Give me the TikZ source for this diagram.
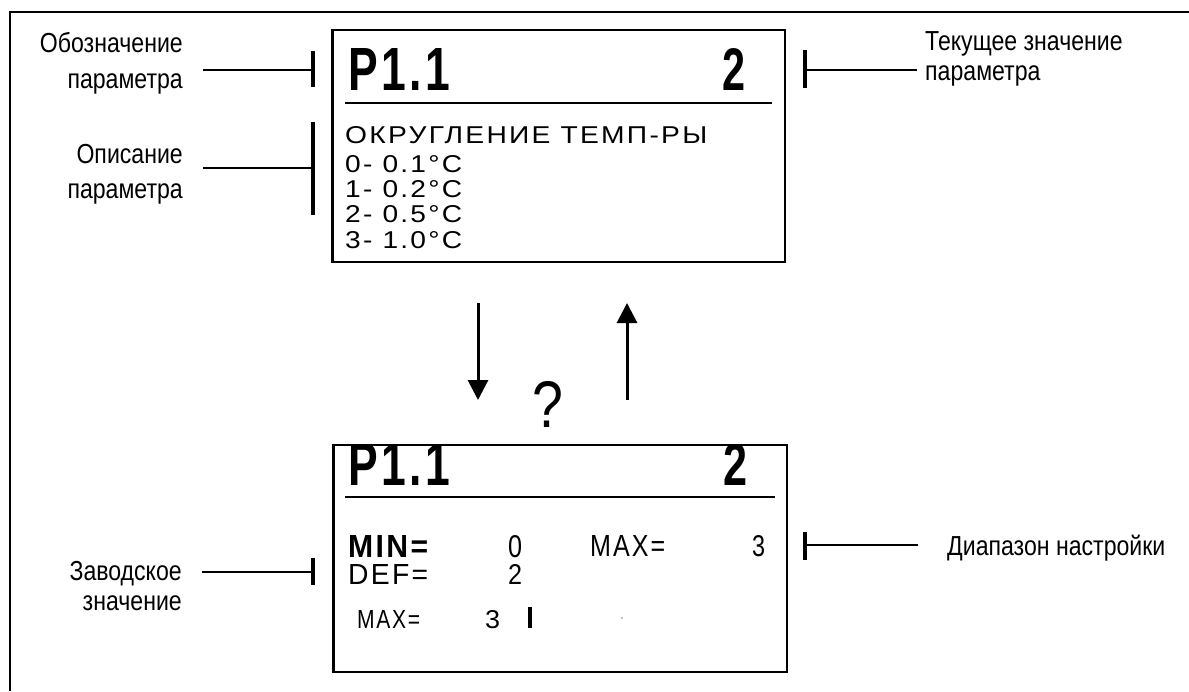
\documentclass[tikz,border=0pt]{standalone}
\usepackage{fontspec}
\usepackage{graphicx}
\usetikzlibrary{arrows.meta}
\setmainfont{Liberation Sans}
\newfontfamily\lblfont{Liberation Sans}[FakeStretch=0.84]
\newfontfamily\lcdfont{Liberation Sans}[LetterSpace=8]
\newcommand\lcdtxt[3]{\resizebox{#1pt}{#2pt}{\lcdfont #3}}
\newcommand\lcdbold[3]{\resizebox{#1pt}{#2pt}{\lcdfont\bfseries #3}}
\tikzset{
  lbl/.style={inner sep=0pt, font=\lblfont\fontsize{27.5}{33}\selectfont},
  lcd/.style={inner sep=0pt, anchor=base west},
  screen/.style={draw, line width=1.5pt, rectangle, inner sep=0pt},
  conn/.style={line width=2.6pt},
  tbar/.style={line width=4pt},
  rule/.style={line width=2.8pt},
  flow/.style={line width=3pt, -{Triangle[width=20pt,length=20pt]}},
  frame/.style={line width=1.3pt}
}
\begin{document}
\begin{tikzpicture}[x=1pt,y=-1pt]
\useasboundingbox (0,0) rectangle (1189,691);
% outer frame (open at right and bottom)
\draw[frame] (10,691) -- (10,12) -- (1189,12);

% screens
\node[screen, minimum width=453pt, minimum height=232pt] (top) at (558.5,146) {};
\node[screen, minimum width=454pt, minimum height=227pt] (bot) at (560,558.5) {};
\draw[line width=1.5pt] ([xshift=1.5pt]top.north west) -- ([xshift=1.5pt]top.south west);
\draw[line width=1.5pt] ([xshift=1.5pt]bot.north west) -- ([xshift=1.5pt]bot.south west);

% top screen content
\node[lcd] (tp) at (348,90) {\lcdbold{102}{42}{P1.1}};
\node[lcd] (tv) at (722,90) {\lcdbold{23}{42}{2}};
\draw[rule] (345,103) -- (772,103);
\node[lcd] (t0) at (345,143) {\lcdtxt{362}{17}{ОКРУГЛЕНИЕ ТЕМП-РЫ}};
\node[lcd] (t1) at (345,172) {\lcdtxt{117}{17}{0- 0.1°C}};
\node[lcd] (t2) at (345,197) {\lcdtxt{117}{17}{1- 0.2°C}};
\node[lcd] (t3) at (345,222) {\lcdtxt{117}{17}{2- 0.5°C}};
\node[lcd] (t4) at (345,248) {\lcdtxt{117}{17}{3- 1.0°C}};

% bottom screen content
\begin{scope}
\clip (bot.north west) rectangle (bot.south east);
\node[lcd] (bp) at (348,485) {\lcdbold{102}{42}{P1.1}};
\node[lcd] (bv) at (723,485) {\lcdbold{24}{42}{2}};
\end{scope}
\draw[rule] (345,497) -- (775,497);
\node[lcd] (bmin) at (348,557) {\lcdbold{80}{22}{MIN=}};
\node[lcd] (bminv) at (508,557) {\lcdtxt{14}{22}{0}};
\node[lcd] (bmax) at (590,556) {\lcdtxt{75}{21}{MAX=}};
\node[lcd] (bmaxv) at (752,556) {\lcdtxt{13}{21}{3}};
\node[lcd] (bdef) at (348,584) {\lcdtxt{80}{20}{DEF=}};
\node[lcd] (bdefv) at (508,584) {\lcdtxt{14}{20}{2}};
\node[lcd] (bm2) at (357,628) {\lcdtxt{63}{18}{MAX=}};
\node[lcd] (bm2v) at (485,628) {\lcdtxt{15}{18}{3}};
\fill (528,607) rectangle (532,628);
\fill[gray] (622,618) circle (0.8pt);

% arrows and question mark
\coordinate (d1) at (478,303);
\coordinate (d2) at (478,400);
\coordinate (u1) at (627,400);
\coordinate (u2) at (627,303);
\draw[flow] (d1) -- (d2);
\draw[flow] (u1) -- (u2);
\node[inner sep=0pt, anchor=base, font=\lblfont\fontsize{66}{70}\selectfont] (q) at (548,427) {?};

% left labels
\node[lbl, anchor=base east] (l1a) at (183,52) {Обозначение};
\node[lbl, anchor=base east] (l1b) at (183,88) {параметра};
\node[lbl, anchor=base east] (l2a) at (183,163) {Описание};
\node[lbl, anchor=base east] (l2b) at (183,198) {параметра};
\node[lbl, anchor=base east] (l3a) at (182,580) {Заводское};
\node[lbl, anchor=base east] (l3b) at (182,610) {значение};
% right labels
\node[lbl, anchor=base west] (r1a) at (925,50) {Текущее значение};
\node[lbl, anchor=base west] (r1b) at (925,80) {параметра};
\node[lbl, anchor=base west] (r2) at (947,555) {Диапазон настройки};

% label connectors with bars
\coordinate (c1s) at (203,70);  \coordinate (c1e) at (313,70);
\draw[conn] (c1s) -- (c1e);
\draw[tbar] (313,51) -- (313,87);
\coordinate (c2s) at (203,168); \coordinate (c2e) at (313,168);
\draw[conn] (c2s) -- (c2e);
\draw[tbar] (313,122) -- (313,215);
\coordinate (c3s) at (202,572); \coordinate (c3e) at (313,572);
\draw[conn] (c3s) -- (c3e);
\draw[tbar] (313,558) -- (313,585);
\coordinate (c4s) at (917,70);  \coordinate (c4e) at (805,70);
\draw[conn] (c4s) -- (c4e);
\draw[tbar] (805,50) -- (805,88);
\coordinate (c5s) at (918,545); \coordinate (c5e) at (805,545);
\draw[conn] (c5s) -- (c5e);
\draw[tbar] (805,532) -- (805,560);
\end{tikzpicture}
\end{document}
